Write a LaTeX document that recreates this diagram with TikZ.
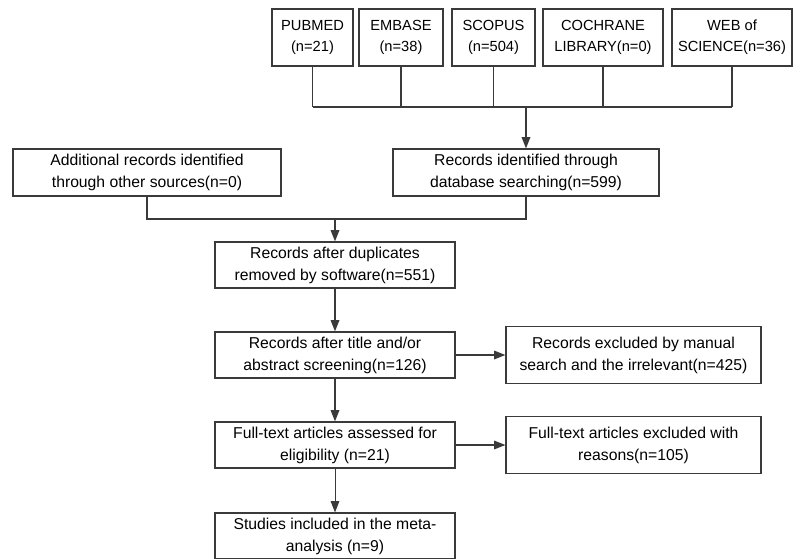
\documentclass[tikz,border=0pt]{standalone}
\usepackage{fontspec}
\setmainfont{Liberation Sans}
\usetikzlibrary{arrows.meta}

\definecolor{linegray}{HTML}{3A3A3A}

\newcommand{\MidX}{335}
\newcommand{\RightX}{633.5}
\newcommand{\TopY}{37.5}

\tikzset{
    box/.style={draw=linegray, line width=0.9pt, align=center, inner sep=0pt,
        minimum height=34.5pt, font=\fontsize{11.8}{16.5}\selectfont},
    topbox/.style={box, minimum height=42.75pt, font=\fontsize{11}{15.5}\selectfont},
    link/.style={draw=linegray, line width=0.9pt},
    arrow/.style={link, -{Triangle[length=8.5pt,width=6.5pt]}}
}

\begin{document}
\begin{tikzpicture}[x=0.75pt, y=-0.75pt]
        \useasboundingbox (0,0) rectangle (802,558);

        % databases
        \node[topbox, minimum width=60.75pt] (pubmed) at (312.5,\TopY) {PUBMED\\(n=21)};
        \node[topbox, minimum width=63pt] (embase) at (401,\TopY) {EMBASE\\(n=38)};
        \node[topbox, minimum width=62.25pt] (scopus) at (493.5,\TopY) {SCOPUS\\(n=504)};
        \node[topbox, minimum width=90pt] (cochrane) at (603,\TopY) {COCHRANE\\LIBRARY(n=0)};
        \node[topbox, minimum width=90pt] (web) at (732,\TopY) {WEB of\\SCIENCE(n=36)};

        % identification
        \node[box, minimum width=201pt, minimum height=35.25pt] (other) at (147,172.5) {Additional records identified\\through other sources(n=0)};
        \node[box, minimum width=199.5pt, minimum height=35.25pt] (ident) at (526,172.5) {Records identified through\\database searching(n=599)};

        % screening
        \node[box, minimum width=180pt] (dup) at (\MidX,265) {Records after duplicates\\removed by software(n=551)};
        \node[box, minimum width=180pt] (title) at (\MidX,355) {Records after title and/or\\abstract screening(n=126)};
        \node[box, minimum width=191.25pt, minimum height=42.75pt] (manual) at (\RightX,355) {Records excluded by manual\\search and the irrelevant(n=425)};
        \node[box, minimum width=180pt] (full) at (\MidX,445) {Full-text articles assessed for\\eligibility (n=21)};
        \node[box, minimum width=191.25pt, minimum height=42.75pt] (reasons) at (\RightX,445) {Full-text articles excluded with\\reasons(n=105)};
        \node[box, minimum width=180pt] (meta) at (\MidX,536) {Studies included in the meta-\\analysis (n=9)};

        \coordinate (J) at (526,107);% database bus
        \coordinate (K) at (\MidX,219);% merge of both sources

        \foreach \db in {pubmed,embase,scopus,cochrane,web}
            \draw[link] (\db.south) -- (\db.south |- J);
        \draw[link] (pubmed.south |- J) -- (web.south |- J);
        \draw[arrow] (J) -- (ident.north);

        \draw[link] (other.south) |- (K);
        \draw[link] (ident.south) |- (K);
        \draw[arrow] (K) -- (dup.north);

        \draw[arrow] (dup) -- (title);
        \draw[arrow] (title) -- (manual);
        \draw[arrow] (title) -- (full);
        \draw[arrow] (full) -- (reasons);
        \draw[arrow, line width=0.6pt] (full) -- (meta);
\end{tikzpicture}
\end{document}
